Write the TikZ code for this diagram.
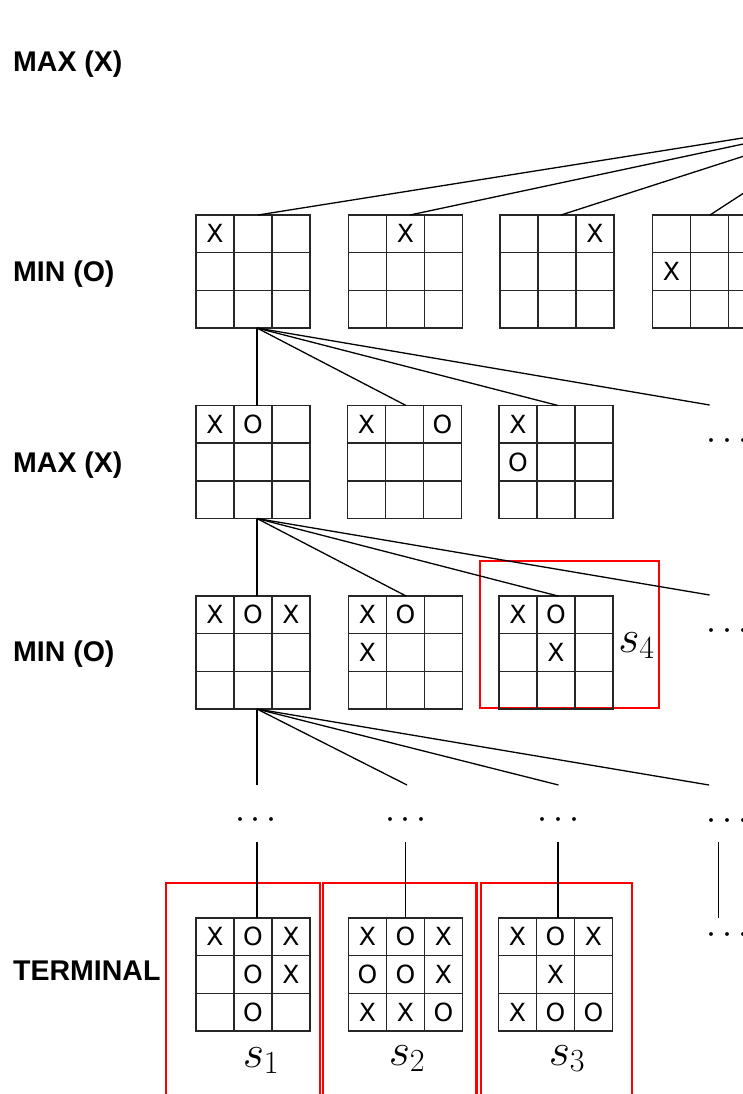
\RequirePackage{fix-cm}
\documentclass[tikz,border=0pt]{standalone}
\usepackage{fontspec}
\setmainfont{Liberation Sans}
\newfontfamily\markfont{DejaVu Sans}
\begin{document}
\begin{tikzpicture}[x=1pt,y=-1pt,
  boardline/.style={draw=black!85, line width=1.5pt},
  tttbox/.style={boardline, minimum width=114pt, minimum height=113pt, inner sep=0pt, outer sep=0pt},
  cellmark/.style={font=\markfont\fontsize{25}{25}\selectfont, inner sep=0pt},
  rowlabel/.style={font=\fontsize{28.5}{28.5}\selectfont\bfseries, anchor=base west, inner sep=0pt},
  link/.style={draw=black, line width=1.3pt},
  hilite/.style={draw=red, line width=2.2pt},
  slabel/.style={font=\fontsize{46}{46}\selectfont, anchor=base, inner sep=0pt},
  ellip/.style={font=\fontsize{36}{36}\selectfont, anchor=base, inner sep=0pt},
  ellipw/.style={ellip, anchor=base west}
]
\useasboundingbox (0,0) rectangle (743,1094);
\clip (0,0) rectangle (743,1094);

% a 3x3 board: name, left, top, list of row/column/mark
\newcommand{\tttboard}[4]{%
  \node[tttbox] (#1) at (#2+57,#3+56.5) {};
  \draw[boardline] (#2+38,#3) -- (#2+38,#3+113)
                   (#2+76,#3) -- (#2+76,#3+113)
                   (#2,#3+37.7) -- (#2+114,#3+37.7)
                   (#2,#3+75.3) -- (#2+114,#3+75.3);
  \foreach \r/\c/\m in {#4}
    \node[cellmark] at (#2+38*\c-19,#3+37.67*\r-18.8) {\m};
}

% level labels
\node[rowlabel] (lab0) at (13,71.5) {MAX (X)};
\node[rowlabel] (lab1) at (13,281.5) {MIN (O)};
\node[rowlabel] (lab2) at (13,472) {MAX (X)};
\node[rowlabel] (lab3) at (13,661) {MIN (O)};
\node[rowlabel] (lab4) at (13,980) {TERMINAL};

% highlighted states
\draw[hilite] (480.2,560.7) rectangle (658.6,708.3);
\draw[hilite] (166.3,883.3) rectangle (320,1100);
\draw[hilite] (323,883.3) rectangle (476.5,1100);
\draw[hilite] (481,883.3) rectangle (632.2,1100);

% boards
\tttboard{a1}{196}{215}{1/1/X}
\tttboard{a2}{348.5}{215}{1/2/X}
\tttboard{a3}{500}{215}{1/3/X}
\tttboard{a4}{652.5}{215}{2/1/X}
\tttboard{b1}{196}{405.5}{1/1/X,1/2/O}
\tttboard{b2}{347.5}{405.5}{1/1/X,1/3/O}
\tttboard{b3}{499}{405.5}{1/1/X,2/1/O}
\tttboard{c1}{196}{596}{1/1/X,1/2/O,1/3/X}
\tttboard{c2}{348.5}{596}{1/1/X,1/2/O,2/1/X}
\tttboard{c3}{499}{596}{1/1/X,1/2/O,2/2/X}
\tttboard{t1}{196}{918}{1/1/X,1/2/O,1/3/X,2/2/O,2/3/X,3/2/O}
\tttboard{t2}{348.5}{918}{1/1/X,1/2/O,1/3/X,2/1/O,2/2/O,2/3/X,3/1/X,3/2/X,3/3/O}
\tttboard{t3}{498.5}{918}{1/1/X,1/2/O,1/3/X,2/2/X,3/1/X,3/2/O,3/3/O}

% state labels
\node[slabel] (s1) at (261,1067) {$s_1$};
\node[slabel] (s2) at (407,1065) {$s_2$};
\node[slabel] (s3) at (567,1065) {$s_3$};
\node[slabel] (s4) at (636.5,652) {$s_4$};

% ellipses
\node[ellipw] (e2) at (706,449) {$\cdots$};
\node[ellipw] (e3) at (706,639) {$\cdots$};
\node[ellip] (m1) at (256,828) {$\cdots$};
\node[ellip] (m2) at (406,828) {$\cdots$};
\node[ellip] (m3) at (558.5,828) {$\cdots$};
\node[ellipw] (m4) at (706,829) {$\cdots$};
\node[ellipw] (e5) at (706,943) {$\cdots$};

% free ends
\coordinate (root) at (856,120);
\coordinate (f2) at (709.6,405);
\coordinate (f3) at (709.6,595);
\coordinate (v1) at (257,785);
\coordinate (v2) at (407,785);
\coordinate (v3) at (558.5,785);
\coordinate (v4) at (709,785);
\coordinate (u1) at (257,842);
\coordinate (u2) at (405.5,842);
\coordinate (u3) at (558,842);
\coordinate (u4) at (718.7,842);
\coordinate (w4) at (718.7,918.3);

% connectors
\draw[link] (root) -- ([xshift=5pt]a1.north);
\draw[link] (root) -- ([xshift=4.5pt]a2.north);
\draw[link] (root) -- ([xshift=4pt]a3.north);
\draw[link] (root) -- ([xshift=0.5pt]a4.north);

\draw[link] ([xshift=4pt]a1.south) -- ([xshift=4pt]b1.north);
\draw[link] ([xshift=4pt]a1.south) -- ([xshift=1.5pt]b2.north);
\draw[link] ([xshift=4pt]a1.south) -- ([xshift=2pt]b3.north);
\draw[link] ([xshift=4pt]a1.south) -- (f2);

\draw[link] ([xshift=4pt]b1.south) -- ([xshift=4pt]c1.north);
\draw[link] ([xshift=4pt]b1.south) -- ([xshift=0.5pt]c2.north);
\draw[link] ([xshift=4pt]b1.south) -- ([xshift=2pt]c3.north);
\draw[link] ([xshift=4pt]b1.south) -- (f3);

\draw[link] ([xshift=4pt]c1.south) -- (v1);
\draw[link] ([xshift=4pt]c1.south) -- (v2);
\draw[link] ([xshift=4pt]c1.south) -- (v3);
\draw[link] ([xshift=4pt]c1.south) -- (v4);

\draw[link] (u1) -- ([xshift=4pt]t1.north);
\draw[link] (u2) -- ([xshift=0pt]t2.north);
\draw[link] (u3) -- ([xshift=2.5pt]t3.north);
\draw[link] (u4) -- (w4);
\end{tikzpicture}
\end{document}
